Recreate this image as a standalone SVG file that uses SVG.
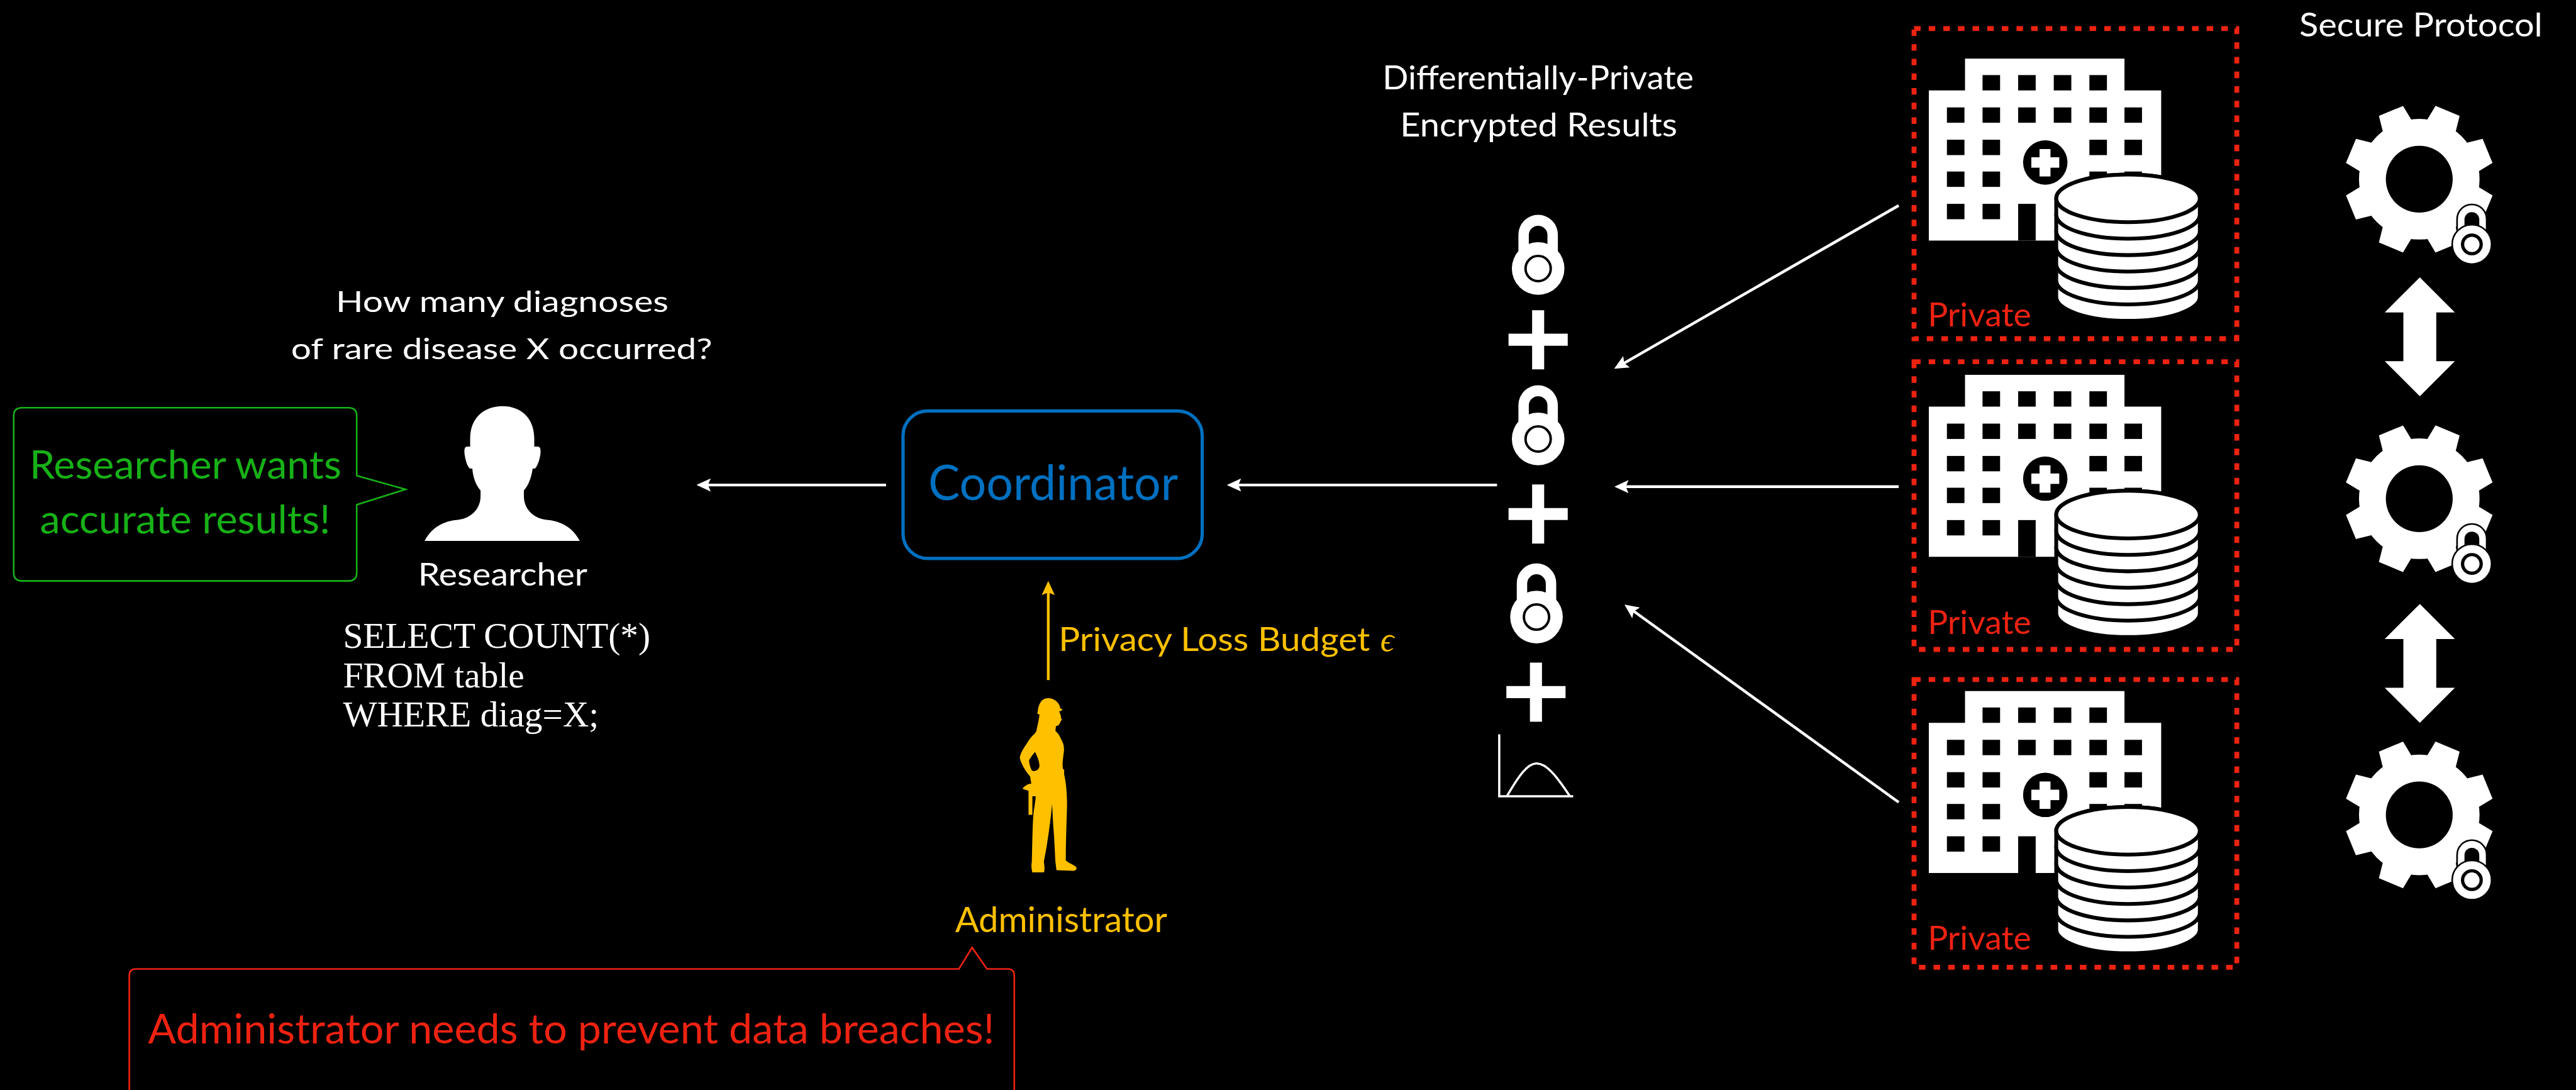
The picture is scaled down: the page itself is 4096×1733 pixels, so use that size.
<svg xmlns="http://www.w3.org/2000/svg" xmlns:xlink="http://www.w3.org/1999/xlink" width="4096" height="1733" viewBox="0 0 4096 1733">
  <defs>
    <style>
      .t { font-family: Lato, "Liberation Sans", "DejaVu Sans", sans-serif; fill: #ffffff; }
      .sql { font-family: "Liberation Serif", "DejaVu Serif", serif; fill: #ffffff; font-size: 66px; }
      .wire { stroke: #ffffff; stroke-width: 5; fill: none; marker-end: url(#head-w); }
      .budget { stroke: #FFC000; stroke-width: 5; fill: none; marker-end: url(#head-g); }
      .gold { fill: #FFC000; }
      .red { fill: #EE2211; }
      .dots { fill: none; stroke: #EE2211; stroke-width: 9; stroke-dasharray: 12 14.7; }
      .win { fill: #000000; }
      .coin { fill: #ffffff; stroke: #000000; stroke-width: 7; }
      .white { fill: #ffffff; }
    </style>
    <marker id="head-w" viewBox="0 0 26 24" refX="16" refY="12" markerWidth="26" markerHeight="24" markerUnits="userSpaceOnUse" orient="auto">
      <path d="M0,0 L26,12 L0,24 L5,12 Z" fill="#ffffff"/>
    </marker>
    <marker id="head-g" viewBox="0 0 26 24" refX="16" refY="12" markerWidth="26" markerHeight="24" markerUnits="userSpaceOnUse" orient="auto">
      <path d="M0,0 L26,12 L0,24 L5,12 Z" fill="#FFC000"/>
    </marker>

    <!-- padlock, origin at the centre of the body -->
    <g id="padlock">
      <path class="white" d="M-36,-20 V-62 A36,36 0 0 1 36,-62 V-20 H17 V-61 A17,17 0 0 0 -17,-61 V-20 Z"/>
      <circle r="48" class="white"/>
      <circle r="23" fill="#ffffff" stroke="#000000" stroke-width="4.5"/>
    </g>

    <!-- small padlock badge with outline, used on the gears -->
    <g id="badge">
      <path d="M-27,-20 V-46 A27,27 0 0 1 27,-46 V-20 Z" fill="#ffffff" stroke="#000000" stroke-width="3"/>
      <path d="M-13.5,-28 V-45.5 A13.5,13.5 0 0 1 13.5,-45.5 V-28 Z" fill="#000000"/>
      <circle r="36" fill="#ffffff" stroke="#000000" stroke-width="3"/>
      <circle r="17" fill="#ffffff" stroke="#000000" stroke-width="6"/>
    </g>

    <!-- gear tooth -->
    <polygon id="tooth" points="89.2,11.7 108.1,14.2 133.8,29.7 115.5,73.6 86.5,66.4 71.4,54.8" fill="#ffffff"/>

    <!-- gear with padlock badge, origin at gear centre -->
    <g id="gear">
      <circle r="110" class="white"/>
      <use xlink:href="#tooth"/>
      <use xlink:href="#tooth" transform="rotate(45)"/>
      <use xlink:href="#tooth" transform="rotate(90)"/>
      <use xlink:href="#tooth" transform="rotate(135)"/>
      <use xlink:href="#tooth" transform="rotate(180)"/>
      <use xlink:href="#tooth" transform="rotate(225)"/>
      <use xlink:href="#tooth" transform="rotate(270)"/>
      <use xlink:href="#tooth" transform="rotate(315)"/>
      <circle r="61" fill="#000000"/>
      <use xlink:href="#badge" x="96" y="119"/>
    </g>

    <!-- double-headed arrow, origin at top tip -->
    <polygon id="updown" points="0,0 64,64 30,64 30,153 64,153 0,217 -64,153 -30,153 -30,64 -64,64" fill="#ffffff"/>

    <!-- plus sign -->
    <path id="plus" d="M-11,-54 H11 V-11 H54 V11 H11 V54 H-11 V11 H-54 V-11 H-11 Z" fill="#ffffff"/>

    <!-- hospital building with its database -->
    <g id="hospital">
      <rect x="3586" y="107" width="291" height="70" class="white"/>
      <rect x="3520" y="165" width="424" height="274" class="white"/>
      <rect class="win" x="3618" y="137" width="32" height="28"/>
      <rect class="win" x="3683" y="137" width="32" height="28"/>
      <rect class="win" x="3748" y="137" width="32" height="28"/>
      <rect class="win" x="3813" y="137" width="32" height="28"/>
      <rect class="win" x="3553" y="196" width="32" height="28"/>
      <rect class="win" x="3618" y="196" width="32" height="28"/>
      <rect class="win" x="3683" y="196" width="32" height="28"/>
      <rect class="win" x="3748" y="196" width="32" height="28"/>
      <rect class="win" x="3813" y="196" width="32" height="28"/>
      <rect class="win" x="3877" y="196" width="32" height="28"/>
      <rect class="win" x="3553" y="255" width="32" height="28"/>
      <rect class="win" x="3618" y="255" width="32" height="28"/>
      <rect class="win" x="3813" y="255" width="32" height="28"/>
      <rect class="win" x="3877" y="255" width="32" height="28"/>
      <rect class="win" x="3553" y="313" width="32" height="28"/>
      <rect class="win" x="3618" y="313" width="32" height="28"/>
      <rect class="win" x="3813" y="313" width="32" height="28"/>
      <rect class="win" x="3877" y="313" width="32" height="28"/>
      <rect class="win" x="3553" y="372" width="32" height="28"/>
      <rect class="win" x="3618" y="372" width="32" height="28"/>
      <rect class="win" x="3683" y="372" width="32" height="67"/>
      <circle cx="3732.5" cy="296.5" r="40.5" fill="#000000"/>
      <rect x="3707" y="287" width="51" height="19" class="white"/>
      <rect x="3722" y="272" width="20" height="50" class="white"/>
      <!-- stack of disks, drawn from the bottom up -->
      <path class="coin" d="M3752.5,512 V542 A131,43.5 0 0 0 4014.5,542 V512 A131,43.5 0 0 0 3752.5,512 Z"/>
      <path class="coin" d="M3752.5,482 V512 A131,43.5 0 0 0 4014.5,512 V482 A131,43.5 0 0 0 3752.5,482 Z"/>
      <path class="coin" d="M3752.5,452 V482 A131,43.5 0 0 0 4014.5,482 V452 A131,43.5 0 0 0 3752.5,452 Z"/>
      <path class="coin" d="M3752.5,422 V452 A131,43.5 0 0 0 4014.5,452 V422 A131,43.5 0 0 0 3752.5,422 Z"/>
      <path class="coin" d="M3752.5,392 V422 A131,43.5 0 0 0 4014.5,422 V392 A131,43.5 0 0 0 3752.5,392 Z"/>
      <path class="coin" d="M3752.5,362 V392 A131,43.5 0 0 0 4014.5,392 V362 A131,43.5 0 0 0 3752.5,362 Z"/>
      <ellipse class="coin" cx="3883.5" cy="362" rx="131" ry="43.5"/>
    </g>
  </defs>

  <rect x="0" y="0" width="4096" height="1733" fill="#000000"/>

  <g transform="scale(0.8713)">

    <!-- connectors -->
    <g id="connectors">
      <line class="wire" x1="1617" y1="885" x2="1281" y2="885"/>
      <line class="wire" x1="2732" y1="885" x2="2249" y2="885"/>
      <line class="wire" x1="3465" y1="375" x2="2954.4" y2="668"/>
      <line class="wire" x1="3465" y1="888" x2="2956" y2="888"/>
      <line class="wire" x1="3465" y1="1464" x2="2972.7" y2="1109"/>
      <line class="budget" x1="1913" y1="1241" x2="1913" y2="1070"/>
      <text class="t" x="1932" y="1188" font-size="60" fill="#FFC000" style="fill:#FFC000" textLength="568" lengthAdjust="spacingAndGlyphs">Privacy Loss Budget</text>
      <text x="2519" y="1188" font-family="Liberation Serif, DejaVu Serif, serif" font-style="italic" font-size="62" fill="#FFC000">ϵ</text>
    </g>

    <!-- researcher -->
    <g id="researcher">
      <text class="t" x="613" y="569" font-size="53" textLength="607" lengthAdjust="spacingAndGlyphs">How many diagnoses</text>
      <text class="t" x="531" y="655" font-size="53" textLength="769" lengthAdjust="spacingAndGlyphs">of rare disease X occurred?</text>
      <path class="white" d="M858,815 L858,800 C858,762 884,741 917,741 C950,741 975,762 975,800 L975,815 L981,815 C987,815 987,822 986,830 C984,842 980,852 976,855 L972,855 C970,870 965,885 956,895 L956,905 C956,930 975,947 1000,949 C1030,952 1048,968 1058,987 L775,987 C785,968 803,952 833,949 C858,947 877,930 877,905 L877,895 C868,885 863,870 862,855 L858,855 C853,852 850,842 848,830 C847,822 847,815 853,815 Z"/>
      <text class="t" x="763" y="1068" font-size="57" textLength="309" lengthAdjust="spacingAndGlyphs">Researcher</text>
      <text class="sql" x="626" y="1182" textLength="561" lengthAdjust="spacingAndGlyphs">SELECT COUNT(*)</text>
      <text class="sql" x="626" y="1254" textLength="331" lengthAdjust="spacingAndGlyphs">FROM table</text>
      <text class="sql" x="626" y="1326" textLength="467" lengthAdjust="spacingAndGlyphs">WHERE diag=X;</text>
    </g>

    <!-- researcher speech bubble -->
    <g id="researcher-note">
      <path d="M40,744 H636 Q651,744 651,759 V868 L740,893 L651,921 V1045 Q651,1060 636,1060 H40 Q25,1060 25,1045 V759 Q25,744 40,744 Z" fill="none" stroke="#17B117" stroke-width="3"/>
      <text class="t" x="54" y="873" font-size="70" style="fill:#17B117" textLength="569" lengthAdjust="spacingAndGlyphs">Researcher wants</text>
      <text class="t" x="73" y="973" font-size="70" style="fill:#17B117" textLength="530" lengthAdjust="spacingAndGlyphs">accurate results!</text>
    </g>

    <!-- coordinator -->
    <g id="coordinator">
      <rect x="1648" y="750" width="546" height="269" rx="45" ry="45" fill="none" stroke="#0070C0" stroke-width="6"/>
      <text class="t" x="1694" y="913" font-size="88" style="fill:#0070C0" textLength="456" lengthAdjust="spacingAndGlyphs">Coordinator</text>
    </g>

    <!-- administrator -->
    <g id="administrator">
      <path class="gold" fill-rule="evenodd" d="M1912,1274 C1925,1274 1934,1283 1935,1293 L1939,1294 L1937,1297 L1933,1298 C1934,1302 1937,1306 1936,1310 L1938,1313 C1936,1315 1935,1318 1934,1320 C1933,1323 1930,1325 1927,1325 L1926,1334 C1930,1337 1933,1341 1936,1348 C1941,1356 1943,1365 1941,1375 C1940,1385 1938,1395 1940,1404 L1942,1404 L1942,1413 C1946,1430 1948,1455 1947,1480 C1946,1510 1945,1545 1945,1570 C1950,1575 1960,1578 1964,1582 C1966,1586 1963,1589 1958,1589 L1928,1588 L1926,1572 C1925,1550 1924,1530 1922,1505 L1920,1467 C1917,1500 1913,1525 1910,1545 L1905,1572 C1906,1580 1907,1588 1905,1592 L1884,1592 C1882,1585 1882,1578 1883,1572 C1884,1540 1884,1510 1886,1485 C1888,1470 1890,1460 1890,1453 L1884,1453 L1884,1487 L1877,1487 L1877,1443 C1872,1441 1868,1441 1866,1439 C1870,1434 1876,1430 1882,1430 L1880,1417 C1872,1408 1864,1395 1861,1383 C1862,1375 1868,1365 1873,1358 C1878,1350 1882,1344 1887,1340 C1890,1337 1892,1334 1892,1330 C1894,1322 1896,1312 1897,1304 L1893,1302 L1894,1297 C1895,1284 1902,1274 1912,1274 Z M1889,1372 C1893,1380 1897,1390 1897,1398 C1896,1404 1892,1407 1886,1407 L1883,1406 C1880,1400 1878,1393 1878,1387 C1881,1382 1885,1376 1889,1372 Z"/>
      <text class="t" x="1743" y="1701" font-size="64" style="fill:#FFC000" textLength="387" lengthAdjust="spacingAndGlyphs">Administrator</text>
    </g>

    <!-- administrator speech bubble -->
    <g id="administrator-note">
      <path d="M236,2010 V1780 Q236,1768 248,1768 H1750 L1774,1729 L1801,1768 H1839 Q1851,1768 1851,1780 V2010" fill="none" stroke="#EE2211" stroke-width="3"/>
      <text class="t" x="270" y="1904" font-size="75" style="fill:#EE2211" textLength="1545" lengthAdjust="spacingAndGlyphs">Administrator needs to prevent data breaches!</text>
    </g>

    <!-- encrypted aggregate -->
    <g id="aggregate">
      <text class="t" x="2523" y="163" font-size="61" textLength="568" lengthAdjust="spacingAndGlyphs">Differentially-Private</text>
      <text class="t" x="2555" y="249" font-size="61" textLength="506" lengthAdjust="spacingAndGlyphs">Encrypted Results</text>
      <use xlink:href="#padlock" x="2807" y="490"/>
      <use xlink:href="#plus" x="2807" y="620"/>
      <use xlink:href="#padlock" x="2807" y="801"/>
      <use xlink:href="#plus" x="2807" y="938"/>
      <use xlink:href="#padlock" x="2804" y="1126"/>
      <use xlink:href="#plus" x="2803" y="1263"/>
      <path d="M2736,1340 V1453 H2871" fill="none" stroke="#ffffff" stroke-width="4"/>
      <path d="M2750,1453 C2772,1415 2788,1393 2804,1393 C2822,1393 2840,1415 2865,1453" fill="none" stroke="#ffffff" stroke-width="4"/>
    </g>

    <!-- hospitals -->
    <g id="hospital-1">
      <rect class="dots" x="3493" y="52" width="589" height="566"/>
      <use xlink:href="#hospital"/>
      <text class="t" x="3518" y="596" font-size="61" style="fill:#EE2211" textLength="189" lengthAdjust="spacingAndGlyphs">Private</text>
    </g>
    <g id="hospital-2">
      <rect class="dots" x="3493" y="660" width="589" height="525"/>
      <use xlink:href="#hospital" y="577"/>
      <text class="t" x="3518" y="1157" font-size="61" style="fill:#EE2211" textLength="189" lengthAdjust="spacingAndGlyphs">Private</text>
    </g>
    <g id="hospital-3">
      <rect class="dots" x="3493" y="1240" width="589" height="525"/>
      <use xlink:href="#hospital" y="1154"/>
      <text class="t" x="3518" y="1733" font-size="61" style="fill:#EE2211" textLength="189" lengthAdjust="spacingAndGlyphs">Private</text>
    </g>

    <!-- secure protocol -->
    <g id="secure-protocol">
      <text class="t" x="4196" y="67" font-size="60" textLength="444" lengthAdjust="spacingAndGlyphs">Secure Protocol</text>
      <use xlink:href="#gear" x="4415" y="327"/>
      <use xlink:href="#updown" x="4416" y="506"/>
      <use xlink:href="#gear" x="4415" y="910"/>
      <use xlink:href="#updown" x="4416" y="1102"/>
      <use xlink:href="#gear" x="4415" y="1487"/>
    </g>
  </g>
</svg>
